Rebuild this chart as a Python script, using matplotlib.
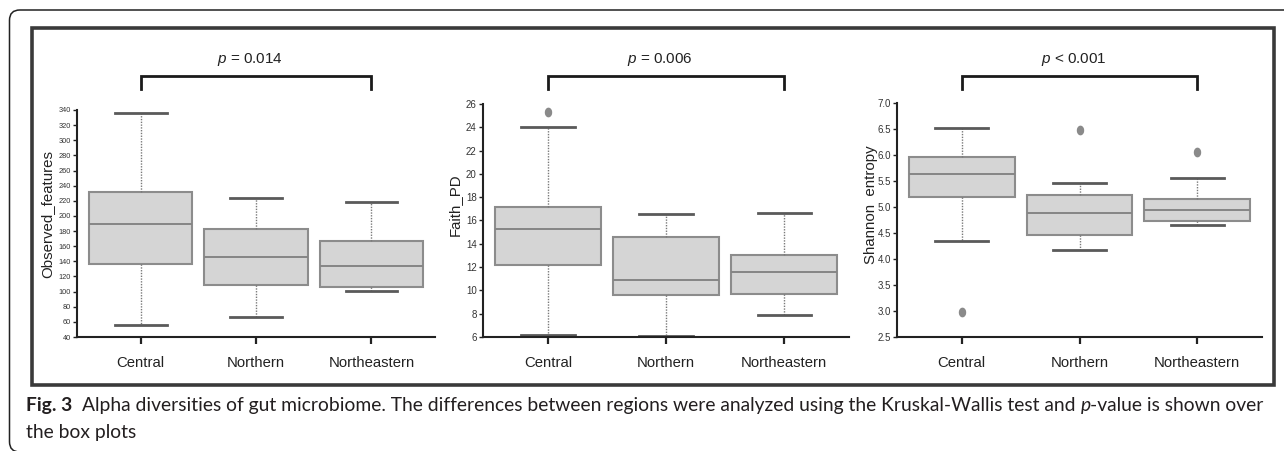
import numpy as np
import matplotlib
matplotlib.use("Agg")
import matplotlib.pyplot as plt
from matplotlib.patches import FancyBboxPatch, Rectangle
from matplotlib.transforms import blended_transform_factory

plt.rcParams['font.family'] = ['Liberation Sans', 'DejaVu Sans']
plt.rcParams['mathtext.fontset'] = 'custom'
plt.rcParams['mathtext.rm'] = 'Liberation Sans'
plt.rcParams['mathtext.it'] = 'Liberation Sans:italic'

W, H = 1284, 451

cats = ["Central", "Northern", "Northeastern"]

# Observed_features
obs_med = [189, 146, 134]
obs_q1 = [136, 109, 106.5]
obs_q3 = [231.5, 182.7, 166.4]
obs_lo = [56, 67, 101]
obs_hi = [336, 224, 218]
obs_fliers = [[], [], []]

# Faith_PD
faith_med = [15.24, 10.89, 11.55]
faith_q1 = [12.15, 9.58, 9.66]
faith_q3 = [17.16, 14.61, 13.04]
faith_lo = [6.2, 6.05, 7.9]
faith_hi = [24.05, 16.53, 16.67]
faith_fliers = [[25.3], [], []]

# Shannon entropy
shan_med = [5.64, 4.89, 4.94]
shan_q1 = [5.19, 4.47, 4.74]
shan_q3 = [5.97, 5.23, 5.15]
shan_lo = [4.35, 4.17, 4.65]
shan_hi = [6.52, 5.47, 5.56]
shan_fliers = [[2.98], [6.48], [6.06]]

pvals = ["$p$ = 0.014", "$p$ = 0.006", "$p$ < 0.001"]


def stats(med, q1, q3, lo, hi, fl):
    return [dict(med=med[i], q1=q1[i], q3=q3[i], whislo=lo[i], whishi=hi[i],
                 fliers=fl[i], label=cats[i]) for i in range(len(cats))]


panels = [
    dict(st=stats(obs_med, obs_q1, obs_q3, obs_lo, obs_hi, obs_fliers),
         box=(77, 110, 435, 337), ylim=(40, 340), ticks=np.arange(40, 341, 20),
         fmt="%d", ylabel="Observed_features", tsize=5.3, lab=(-0.064, 0.54)),
    dict(st=stats(faith_med, faith_q1, faith_q3, faith_lo, faith_hi, faith_fliers),
         box=(483, 104, 849, 337), ylim=(6, 26), ticks=np.arange(6, 27, 2),
         fmt="%d", ylabel="Faith_PD", tsize=7, lab=(-0.059, 0.567)),
    dict(st=stats(shan_med, shan_q1, shan_q3, shan_lo, shan_hi, shan_fliers),
         box=(897, 103, 1262, 337), ylim=(2.5, 7.0), ticks=np.arange(2.5, 7.01, 0.5),
         fmt="%.1f", ylabel="Shannon  entropy", tsize=7, lab=(-0.053, 0.564)),
]

fig = plt.figure(figsize=(W / 100, H / 100), dpi=100)

# outer rounded frame and inner box
frame = FancyBboxPatch((9.5 / W, 1 - 452 / H), 1400 / W, 442 / H,
                       boxstyle="round,pad=0,rounding_size=0.008",
                       transform=fig.transFigure, fill=False, ec="#222222", lw=1.1,
                       mutation_aspect=W / H)
fig.patches.append(frame)
inner = Rectangle((32 / W, 1 - 385 / H), (1274 - 32) / W, (385 - 28) / H,
                  transform=fig.transFigure, fill=False, ec="#3a3a3a", lw=2.6)
fig.patches.append(inner)

th = np.linspace(0, 2 * np.pi, 40)
oval = np.c_[0.72 * np.cos(th), np.sin(th)]

for k, p in enumerate(panels):
    l, t, r, b = p["box"]
    ax = fig.add_axes([l / W, 1 - b / H, (r - l) / W, (b - t) / H])
    ax.bxp(p["st"], positions=range(3), widths=0.9, patch_artist=True,
           boxprops=dict(facecolor="#d5d5d5", edgecolor="#8c8c8c", linewidth=1.5),
           medianprops=dict(color="#858585", linewidth=1.4),
           whiskerprops=dict(color="#7a7a7a", linestyle=(0, (1, 1)), linewidth=1.0),
           capprops=dict(color="#5a5a5a", linewidth=2.0),
           flierprops=dict(marker=oval, markerfacecolor="#8a8a8a",
                           markeredgecolor="#8a8a8a", markersize=6))
    ax.set_xlim(-0.55, 2.55)
    ax.set_ylim(*p["ylim"])
    ax.set_yticks(p["ticks"])
    ax.set_yticklabels([p["fmt"] % v for v in p["ticks"]])
    ax.set_xticks(range(3))
    ax.set_xticklabels(cats)
    for s in ("top", "right"):
        ax.spines[s].set_visible(False)
    for s in ("left", "bottom"):
        ax.spines[s].set_color("#222222")
        ax.spines[s].set_linewidth(1.5)
    ax.tick_params(axis="y", direction="out", length=3, width=1, color="#222222",
                   labelsize=p["tsize"], labelcolor="#333333", pad=1.5)
    ax.tick_params(axis="x", direction="out", length=5, width=1.6, color="#222222",
                   labelsize=10.7, labelcolor="#222222", pad=9)
    ax.set_facecolor("none")
    ax.set_ylabel(p["ylabel"], fontsize=10.8, color="#222222")
    ax.yaxis.set_label_coords(*p["lab"])

    # significance bracket
    tr = blended_transform_factory(ax.transData, fig.transFigure)
    yb = 1 - 76 / H
    yd = 1 - 89 / H
    ax.plot([0, 0, 2, 2], [yd, yb, yb, yd], transform=tr, color="#1a1a1a",
            lw=2.0, clip_on=False, solid_joinstyle="miter")
    ax.text(0.95, 1 - 60 / H, pvals[k], transform=tr, ha="center", va="center",
            fontsize=11, color="#222222")

# caption
renderer = fig.canvas.get_renderer()
cap_font = ["Lato", "DejaVu Sans"]


def width(s, **kw):
    t = fig.text(0, 0, s, **kw)
    w = t.get_window_extent(renderer).width
    t.remove()
    return w


pieces = [("Fig. 3", "bold", "normal"),
          ("Alpha diversities of gut microbiome. The differences between regions were "
           "analyzed using the Kruskal-Wallis test and", "normal", "normal"),
          ("p", "normal", "italic"),
          ("-value is shown over", "normal", "normal")]

base = 12.0


def line_width(fs):
    sp = width("a a", family=cap_font, fontsize=fs) - width("aa", family=cap_font, fontsize=fs)
    ws = [width(s, family=cap_font, fontsize=fs, weight=wt, style=st) for s, wt, st in pieces]
    return sum(ws) + 3 * sp, sp


w0, _ = line_width(base)
fs = base * (1266 - 26) / w0
_, sp = line_width(fs)

x = 26
y1 = 1 - 411 / H
gaps = [2 * sp, sp, 0, 0]
for (s, wt, st), g in zip(pieces, gaps):
    t = fig.text(x / W, y1, s, family=cap_font, fontsize=fs, weight=wt, style=st,
                 color="#231f20", ha="left", va="baseline")
    x += t.get_window_extent(renderer).width + g
fig.text(26 / W, 1 - 438 / H, "the box plots", family=cap_font, fontsize=fs,
         color="#231f20", ha="left", va="baseline")

fig.savefig("out.png", dpi=100)
